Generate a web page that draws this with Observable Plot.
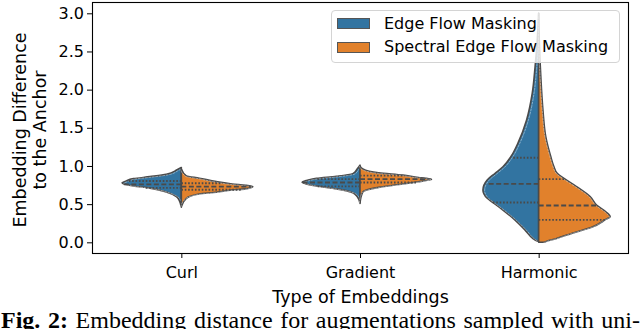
<!DOCTYPE html>
<html>
<head>
<meta charset="utf-8">
<script src="https://cdn.jsdelivr.net/npm/d3@7"></script>
<script src="https://cdn.jsdelivr.net/npm/@observablehq/plot@0.6"></script>
<style>
  html, body { margin: 0; padding: 0; background: #fff; }
  body { width: 640px; height: 329px; overflow: hidden; position: relative; }
  #chart { position: absolute; left: 0; top: 0; }
  #legend { position: absolute; left: 331px; top: 10px; width: 289px; height: 53px; box-sizing: border-box;
    background: rgba(255,255,255,0.8); border: 1px solid #d4d4d4; border-radius: 4px; }
  .patch { position: absolute; left: 337px; width: 33px; height: 11px; box-sizing: border-box; border: 1px solid #555; }
  .ltext { position: absolute; left: 384px; font: 16px/16px "DejaVu Sans"; color: #000; white-space: nowrap; }
  #caption { position: absolute; left: 1px; top: 308px; width: 639px; font: 24px/24px "Liberation Serif", "DejaVu Serif", serif;
    white-space: nowrap; text-align: justify; text-align-last: justify; color: #000; }
</style>
</head>
<body>
<div id="chart"></div>
<div id="legend"></div>
<div id="caption"><b>Fig. 2:</b> Embedding distance for augmentations sampled with uni-</div>
<script>
// ---- data ----
const categories = ["Curl", "Gradient", "Harmonic"];
const series = ["Edge Flow Masking", "Spectral Edge Flow Masking"];
const colors = ["#3274a1", "#e1812c"];
const yTicks = [0.0, 0.5, 1.0, 1.5, 2.0, 2.5, 3.0];

// violin half profiles: [value, relative density]
const curlEdge = [[0.46,0],[0.55,0.03],[0.60,0.07],[0.66,0.21],[0.71,0.44],[0.738,0.67],[0.76,0.79],[0.78,0.83],[0.80,0.78],[0.834,0.67],[0.86,0.44],[0.89,0.21],[0.95,0.06],[0.98,0]];
const curlSpectral = [[0.47,0],[0.577,0.07],[0.633,0.25],[0.655,0.49],[0.685,0.71],[0.70,0.90],[0.73,1.0],[0.747,0.90],[0.764,0.71],[0.795,0.49],[0.84,0.25],[0.87,0.07],[0.96,0]];
const gradientEdge = [[0.51,0],[0.60,0.04],[0.65,0.10],[0.70,0.33],[0.738,0.61],[0.765,0.75],[0.786,0.81],[0.81,0.75],[0.838,0.61],[0.865,0.33],[0.90,0.10],[0.96,0.04],[1.01,0]];
const gradientSpectral = [[0.52,0],[0.66,0.04],[0.72,0.26],[0.764,0.60],[0.794,0.82],[0.812,0.94],[0.826,1.0],[0.84,0.92],[0.85,0.82],[0.88,0.60],[0.91,0.26],[0.96,0.04],[1.0,0]];
const harmonicEdge = [[0.01,0],[0.02,0.03],[0.05,0.08],[0.16,0.19],[0.29,0.33],[0.423,0.50],[0.528,0.65],[0.577,0.72],[0.686,0.78],[0.817,0.72],[0.904,0.61],[0.99,0.50],[1.12,0.39],[1.30,0.29],[1.60,0.17],[1.95,0.09],[2.30,0.05],[2.65,0.02],[3.0,0]];
const harmonicSpectral = [[0.0,0.08],[0.02,0.13],[0.05,0.25],[0.12,0.47],[0.20,0.75],[0.30,0.94],[0.335,1.0],[0.40,0.94],[0.489,0.81],[0.60,0.72],[0.73,0.53],[0.834,0.36],[0.904,0.26],[1.0,0.21],[1.12,0.17],[1.38,0.10],[1.73,0.06],[2.17,0.03],[2.6,0.01],[3.0,0]];

// quartiles [value, relative density at that value]: q1, median, q3
const curlEdgeQ = [[0.72,0.51],[0.765,0.81],[0.81,0.74]];
const curlSpectralQ = [[0.695,0.83],[0.735,0.97],[0.78,0.56]];
const gradientEdgeQ = [[0.74,0.62],[0.79,0.80],[0.835,0.62]];
const gradientSpectralQ = [[0.79,0.79],[0.835,0.95],[0.88,0.60]];
const harmonicEdgeQ = [[0.528,0.65],[0.773,0.74],[1.114,0.38]];
const harmonicSpectralQ = [[0.30,0.94],[0.489,0.81],[0.834,0.36]];

const halves = [
  [0, 0, curlEdge, curlEdgeQ], [0, 1, curlSpectral, curlSpectralQ],
  [1, 0, gradientEdge, gradientEdgeQ], [1, 1, gradientSpectral, gradientSpectralQ],
  [2, 0, harmonicEdge, harmonicEdgeQ], [2, 1, harmonicSpectral, harmonicSpectralQ]
];

const halfWidth = 0.4;
const lineColor = "#4a4a4a";
const marks = [];
for (const [ci, si, prof, q] of halves) {
  const sign = si === 0 ? -1 : 1;
  marks.push(Plot.areaX(prof, {
    y: d => d[0], x1: () => ci, x2: d => ci + sign * d[1] * halfWidth,
    fill: colors[si], stroke: lineColor, strokeWidth: 1.6, strokeLinejoin: "round", curve: "monotone-y"
  }));
  marks.push(Plot.line(prof, {
    y: d => d[0], x: d => ci + sign * d[1] * halfWidth,
    stroke: "#fff", strokeWidth: 0.6, strokeOpacity: 0.7, strokeDasharray: "2,1.5", curve: "monotone-y",
    dx: -sign * 1.2
  }));
  const quart = q.filter((d, i) => i !== 1), med = q.filter((d, i) => i === 1);
  marks.push(Plot.ruleY(quart, {
    y: d => d[0], x1: () => ci, x2: d => ci + sign * d[1] * halfWidth,
    stroke: lineColor, strokeWidth: 1.8, strokeDasharray: "1.6,1.8"
  }));
  marks.push(Plot.ruleY(med, {
    y: d => d[0], x1: () => ci, x2: d => ci + sign * d[1] * halfWidth,
    stroke: lineColor, strokeWidth: 1.8, strokeDasharray: "5,2.5"
  }));
}
marks.push(Plot.frame({stroke: "#000", strokeWidth: 1.1}));
marks.push(Plot.axisY({ticks: yTicks, tickFormat: d3.format(".1f"), tickSize: 5, tickPadding: 3.5, label: null}));
marks.push(Plot.axisX({ticks: [0, 1, 2], tickFormat: i => categories[i], tickSize: 5, tickPadding: 8, label: null}));
marks.push(Plot.text(["Type of Embeddings"], {frameAnchor: "bottom", text: d => d, dy: 37, lineAnchor: "top", textAnchor: "middle", fontSize: 17.5}));
marks.push(Plot.text(["Embedding Difference\nto the Anchor"], {frameAnchor: "left", text: d => d, dx: -63, dy: 2, rotate: -90, textAnchor: "middle", lineAnchor: "middle", lineHeight: 1.15, fontSize: 17.5}));

const chart = Plot.plot({
  width: 640, height: 329,
  marginLeft: 92, marginRight: 12, marginTop: 2, marginBottom: 76,
  style: {fontFamily: "DejaVu Sans", fontSize: "16px", color: "#000", background: "#fff", overflow: "visible"},
  x: {domain: [-0.5, 2.5]},
  y: {domain: [-0.14, 3.148]},
  marks
});
document.getElementById("chart").appendChild(chart);

// legend
const legend = document.body;
const patchTops = [18, 41.5], textTops = [15.8, 39.2];
series.forEach((s, i) => {
  const p = document.createElement("div");
  p.className = "patch"; p.style.top = patchTops[i] + "px"; p.style.background = colors[i];
  legend.appendChild(p);
  const t = document.createElement("div");
  t.className = "ltext"; t.style.top = textTops[i] + "px"; t.textContent = s;
  legend.appendChild(t);
});
</script>
</body>
</html>
